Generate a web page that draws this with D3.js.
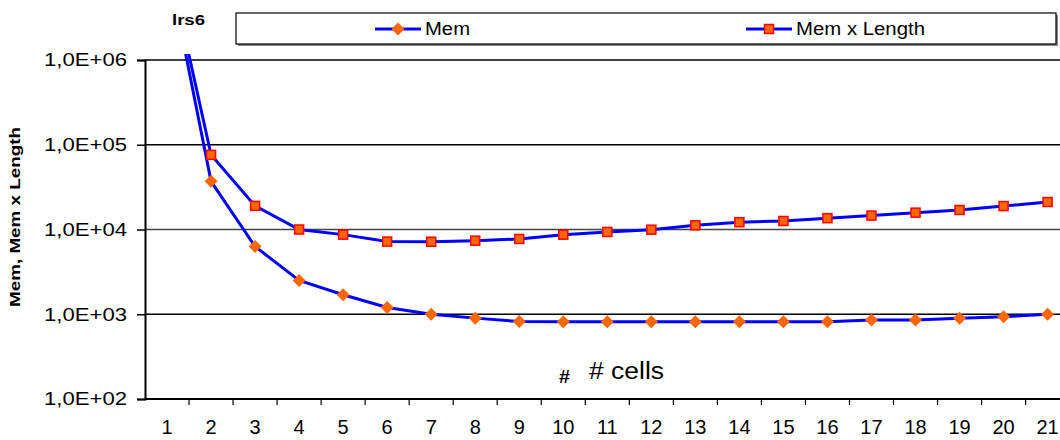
<!DOCTYPE html>
<html>
<head>
<meta charset="utf-8">
<script src="https://cdn.jsdelivr.net/npm/d3@7"></script>
<style>
  body { margin: 0; background: #fff; }
  text { font-family: "Liberation Sans", Arial, sans-serif; }
</style>
</head>
<body>
<div id="chart"></div>
<script>
// chart data
var cells = ["1","2","3","4","5","6","7","8","9","10","11","12","13","14","15","16","17","18","19","20","21"];
var mem = [1.5e7, 37000, 6300, 2500, 1700, 1200, 1000, 900, 820, 817, 817, 817, 817, 817, 817, 817, 855, 855, 896, 935, 1000];
var memLength = [1.7e7, 76000, 19000, 10000, 8700, 7200, 7170, 7380, 7730, 8690, 9360, 9950, 11200, 12200, 12600, 13600, 14600, 15800, 17000, 18900, 21100];
var yTicks = [1e2, 1e3, 1e4, 1e5, 1e6];

var svgWidth = 1060;
var svgHeight = 440;

var margin = { top: 60, left: 145 };
var height = 339;
var width = 21 * 44.03;

var svg = d3.select("#chart")
  .append("svg")
  .attr("width", svgWidth)
  .attr("height", svgHeight);

svg.append("defs").append("clipPath")
  .attr("id", "plotclip")
  .append("rect")
  .attr("x", 0).attr("y", -6)
  .attr("width", width).attr("height", height + 6);

var chartGroup = svg.append("g")
  .attr("transform", `translate(${margin.left}, ${margin.top})`);

// scales
var xScale = d3.scaleBand()
  .domain(cells)
  .range([0, width])
  .padding(0);

var yScale = d3.scaleLog()
  .domain([1e2, 1e6])
  .range([height, 0]);

var xc = d => xScale(d) + xScale.bandwidth() / 2;

// gridlines
chartGroup.selectAll(".grid")
  .data(yTicks.slice(1))
  .enter()
  .append("line")
  .attr("x1", 0)
  .attr("x2", width)
  .attr("y1", d => yScale(d))
  .attr("y2", d => yScale(d))
  .attr("stroke", d => d == 1e4 ? "#444" : "#000")
  .attr("stroke-width", 1.5);

// y axis
var leftAxis = d3.axisLeft(yScale)
  .tickValues(yTicks)
  .tickSize(8)
  .tickPadding(10)
  .tickFormat(d => "1,0E+0" + Math.round(Math.log10(d)));

var yAxisG = chartGroup.append("g").call(leftAxis);
yAxisG.select(".domain").attr("stroke", "#000").attr("stroke-width", 2);
yAxisG.selectAll(".tick line").attr("stroke", "#000").attr("stroke-width", 1.5);
yAxisG.selectAll(".tick text")
  .attr("fill", "#000")
  .style("font-size", "18px")
  .attr("textLength", 83)
  .attr("lengthAdjust", "spacingAndGlyphs");

// x axis (labels at centres, ticks between categories)
var bottomAxis = d3.axisBottom(xScale)
  .tickSize(0)
  .tickPadding(21);

var xAxisG = chartGroup.append("g")
  .attr("transform", `translate(0, ${height})`)
  .call(bottomAxis);
xAxisG.select(".domain").remove();
xAxisG.selectAll(".tick text")
  .attr("fill", "#000")
  .style("font-size", "20px");

chartGroup.append("line")
  .attr("x1", 0).attr("x2", width)
  .attr("y1", height).attr("y2", height)
  .attr("stroke", "#000").attr("stroke-width", 2);

chartGroup.selectAll(".xtick")
  .data(cells.slice(1))
  .enter()
  .append("line")
  .attr("x1", d => xScale(d))
  .attr("x2", d => xScale(d))
  .attr("y1", height)
  .attr("y2", height + 6)
  .attr("stroke", "#000")
  .attr("stroke-width", 1.2);

// lines
var lineGen = d3.line()
  .x((d, i) => xc(cells[i]))
  .y(d => yScale(d));

var plot = chartGroup.append("g").attr("clip-path", "url(#plotclip)");

plot.append("path")
  .datum(memLength)
  .attr("d", lineGen)
  .attr("fill", "none")
  .attr("stroke", "#0000ff")
  .attr("stroke-width", 3);

plot.append("path")
  .datum(mem)
  .attr("d", lineGen)
  .attr("fill", "none")
  .attr("stroke", "#0000ff")
  .attr("stroke-width", 3);

// markers
var diamondPath = "M0,-6.5L6.5,0L0,6.5L-6.5,0Z";

plot.selectAll(".sq")
  .data(memLength)
  .enter()
  .append("rect")
  .attr("x", (d, i) => xc(cells[i]) - 4.5)
  .attr("y", d => yScale(d) - 4.5)
  .attr("width", 9)
  .attr("height", 9)
  .attr("fill", "#ff6600")
  .attr("stroke", "#ff0000")
  .attr("stroke-width", 1.5);

plot.selectAll(".dm")
  .data(mem)
  .enter()
  .append("path")
  .attr("d", diamondPath)
  .attr("transform", (d, i) => `translate(${xc(cells[i])}, ${yScale(d)})`)
  .attr("fill", "#ff6600");

// y axis title
svg.append("text")
  .attr("transform", "translate(20, 217) rotate(-90)")
  .attr("text-anchor", "middle")
  .style("font-size", "14px")
  .style("font-weight", "bold")
  .attr("textLength", 180)
  .attr("lengthAdjust", "spacingAndGlyphs")
  .text("Mem, Mem x Length");

// chart title
svg.append("text")
  .attr("x", 172)
  .attr("y", 25)
  .style("font-size", "14px")
  .style("font-weight", "bold")
  .attr("textLength", 33)
  .attr("lengthAdjust", "spacingAndGlyphs")
  .text("lrs6");

// x axis title
svg.append("text")
  .attr("x", 559)
  .attr("y", 383)
  .style("font-size", "19px")
  .style("font-weight", "bold")
  .attr("textLength", 11)
  .attr("lengthAdjust", "spacingAndGlyphs")
  .text("#");

svg.append("text")
  .attr("x", 589)
  .attr("y", 379)
  .style("font-size", "23px")
  .attr("textLength", 75)
  .attr("lengthAdjust", "spacingAndGlyphs")
  .text("# cells");

// legend
var legend = svg.append("g");
legend.append("rect")
  .attr("x", 238).attr("y", 15)
  .attr("width", 820).attr("height", 31)
  .attr("fill", "#888");
legend.append("rect")
  .attr("x", 236).attr("y", 13)
  .attr("width", 820).attr("height", 31)
  .attr("fill", "#fff")
  .attr("stroke", "#000")
  .attr("stroke-width", 1.2);

var legendItems = [
  { name: "Mem", x: 375, tx: 425, w: 45, marker: "diamond" },
  { name: "Mem x Length", x: 746, tx: 796, w: 129, marker: "square" }
];

legendItems.forEach(function(item) {
  legend.append("line")
    .attr("x1", item.x).attr("x2", item.x + 46)
    .attr("y1", 29).attr("y2", 29)
    .attr("stroke", "#0000ff").attr("stroke-width", 3);
  if (item.marker == "diamond") {
    legend.append("path")
      .attr("d", diamondPath)
      .attr("transform", `translate(${item.x + 23}, 29)`)
      .attr("fill", "#ff6600");
  } else {
    legend.append("rect")
      .attr("x", item.x + 18.5).attr("y", 24.5)
      .attr("width", 9).attr("height", 9)
      .attr("fill", "#ff6600")
      .attr("stroke", "#ff0000").attr("stroke-width", 1.5);
  }
  legend.append("text")
    .attr("x", item.tx)
    .attr("y", 35)
    .style("font-size", "18px")
    .attr("textLength", item.w)
    .attr("lengthAdjust", "spacingAndGlyphs")
    .text(item.name);
});
</script>
</body>
</html>
